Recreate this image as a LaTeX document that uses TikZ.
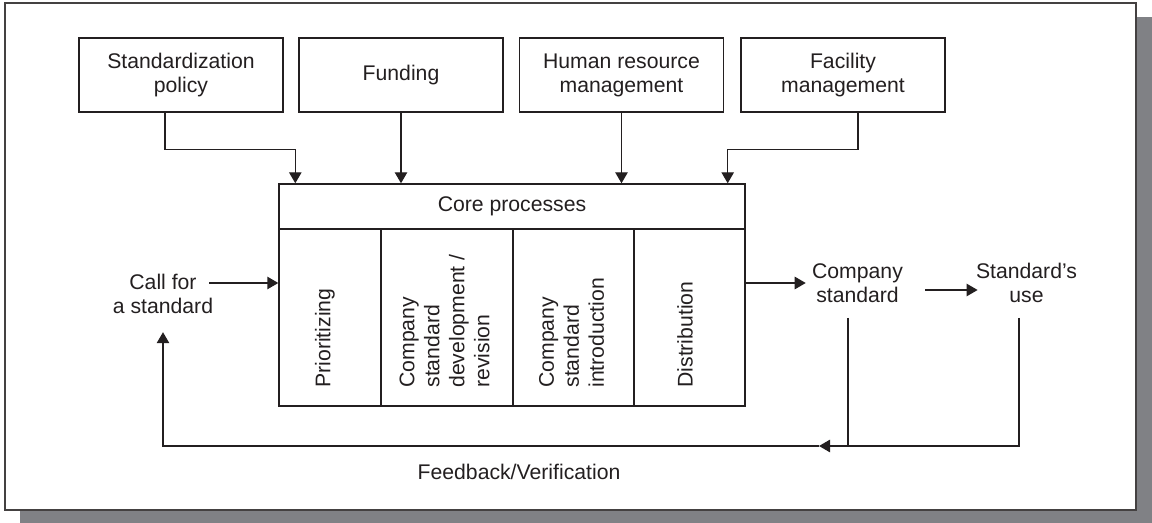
\documentclass[tikz,border=0pt]{standalone}
\usepackage{fontspec}
\setmainfont{Liberation Sans}
\usetikzlibrary{arrows.meta}
\definecolor{ink}{HTML}{231F20}
\definecolor{shadowgray}{HTML}{808185}
\begin{document}
\begin{tikzpicture}[x=0.5pt,y=-0.5pt,
  every node/.style={font=\fontsize{10.6}{12}\selectfont, text=ink},
  box/.style={draw=ink, line width=0.7pt, minimum width=102pt, minimum height=37pt, align=center, inner sep=0pt},
  cell/.style={draw=ink, line width=0.7pt, minimum height=88.5pt, inner sep=0pt},
  vlabel/.style={rotate=90, anchor=west, align=left, inner sep=0pt, font=\fontsize{10.6}{12.5}\selectfont},
  lbl/.style={align=center, inner sep=3pt},
  conn/.style={draw=ink, line width=0.7pt},
  arr/.style={conn, -{Triangle[length=5.5pt,width=6.2pt]}}]
\useasboundingbox (0,0) rectangle (1152,523);
\fill[shadowgray] (20,17) rectangle (1152,523);
\draw[fill=white, draw=ink!85, line width=0.8pt] (5,3) rectangle (1136,510);

% top boxes
\node[box] (b1) at (181,75) {Standardization\\policy};
\node[box] (b2) at (401,75) {Funding};
\node[box] (b3) at (621.5,75) {Human resource\\management};
\node[box] (b4) at (843,75) {Facility\\management};

% core processes
\node[cell, minimum width=233pt, minimum height=22.5pt] (core) at (512,206.5) {Core processes};
\node[cell, minimum width=51pt] (c1) at (330,317.5) {};
\node[cell, minimum width=66pt] (c2) at (447,317.5) {};
\node[cell, minimum width=60.5pt] (c3) at (573.5,317.5) {};
\node[cell, minimum width=55.5pt] (c4) at (689.5,317.5) {};
\node[vlabel] (l1) at (325,388) {Prioritizing};
\node[vlabel] (l2) at (444.5,388) {Company\\standard\\development /\\revision};
\node[vlabel] (l3) at (571.5,388) {Company\\standard\\introduction};
\node[vlabel] (l4) at (685,388) {Distribution};

% side labels
\node[lbl] (call) at (163,294) {Call for\\a standard};
\node[lbl] (cs) at (857.5,283) {Company\\standard};
\node[lbl] (su) at (1026.5,283) {Standard's\\use};
\node (fb) at (519,472) {Feedback/Verification};

% inputs from top
\draw[arr] ([xshift=-8pt]b1.south) -- ++(0,37) -| ([xshift=8.5pt]core.north west);
\draw[arr] (b2.south) -- (b2.south |- core.north);
\draw[arr] (b3.south) -- (b3.south |- core.north);
\draw[arr] ([xshift=7.5pt]b4.south) -- ++(0,37) -| ([xshift=-9pt]core.north east);

% flow
\draw[arr] ([xshift=-5pt,yshift=5.5pt]call.east) -- ([yshift=5.5pt]call.east -| c1.west);
\draw[arr] (c4.east |- cs.west) -- (cs.west);
\draw[arr] ([xshift=8pt,yshift=-3.5pt]cs.east) -- ([xshift=4pt,yshift=-3.5pt]su.west);

% feedback loop
\coordinate (csd) at (848,318);
\coordinate (sud) at (1019,318);
\coordinate (fbm) at (848,446);
\coordinate (fbt) at (819,446);
\coordinate (fbl) at (163,446);
\draw[conn] (csd) -- (fbm);
\draw[arr] (sud) |- (fbt);
\draw[arr] (fbt) -- (fbl) -- ([yshift=-6pt]call.south);
\end{tikzpicture}
\end{document}
